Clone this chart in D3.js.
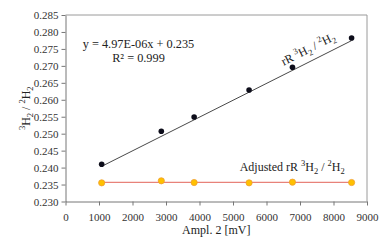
<!DOCTYPE html>
<html>
<head>
<meta charset="utf-8">
<script src="https://cdn.jsdelivr.net/npm/d3@7"></script>
<style>
  body { margin: 0; background: #fff; }
  svg { display: block; font-family: "Liberation Serif", "Times New Roman", serif; }
</style>
</head>
<body>
<div id="chart"></div>
<script>
const ampl = [1080, 2860, 3840, 5480, 6775, 8540];
const rawRatio = [0.2410, 0.2507, 0.2549, 0.2629, 0.2696, 0.2782];
const adjRatio = [0.2355, 0.2361, 0.2356, 0.2355, 0.2357, 0.2356];
const xTicks = [0, 1000, 2000, 3000, 4000, 5000, 6000, 7000, 8000, 9000];
const yTicks = [0.230, 0.235, 0.240, 0.245, 0.250, 0.255, 0.260, 0.265, 0.270, 0.275, 0.280, 0.285];
const slope = 4.97e-6, intercept = 0.235;

const W = 383, H = 241;
const margin = { top: 15, right: 16, bottom: 39.5, left: 65.5 };
const width = W - margin.left - margin.right;
const height = H - margin.top - margin.bottom;

const svg = d3.select('#chart').append('svg')
    .attr('width', W).attr('height', H);
const g = svg.append('g').attr('transform', `translate(${margin.left},${margin.top})`);

const x = d3.scaleLinear().domain([0, 9000]).range([0, width]);
const y = d3.scaleLinear().domain([0.230, 0.285]).range([height, 0]);

// frame (top & right, light gray)
g.append('path')
    .attr('d', `M0,0H${width}V${height}`)
    .attr('fill', 'none').attr('stroke', '#9a9a9a').attr('stroke-width', 1);

const xAxis = g.append('g').attr('transform', `translate(0,${height})`)
    .call(d3.axisBottom(x).tickValues(xTicks).tickFormat(d3.format('d')).tickSize(4).tickSizeOuter(0));
const yAxis = g.append('g')
    .call(d3.axisLeft(y).tickValues(yTicks).tickFormat(d3.format('.3f')).tickSize(4).tickSizeOuter(0));
[xAxis, yAxis].forEach(a => {
    a.select('.domain').attr('stroke', '#777');
    a.selectAll('.tick line').attr('stroke', '#777');
    a.selectAll('text').style('font-size', '11px').style('font-family', 'Liberation Serif, serif').attr('fill', '#333');
});
xAxis.selectAll('text').attr('dy', '1.1em');

// trend line
g.append('line')
    .attr('x1', x(ampl[0])).attr('y1', y(slope * ampl[0] + intercept))
    .attr('x2', x(ampl[ampl.length - 1])).attr('y2', y(slope * ampl[ampl.length - 1] + intercept))
    .attr('stroke', '#333').attr('stroke-width', 0.9);

// adjusted line
g.append('line')
    .attr('x1', x(ampl[0])).attr('y1', y(d3.mean(adjRatio)))
    .attr('x2', x(ampl[ampl.length - 1])).attr('y2', y(d3.mean(adjRatio)))
    .attr('stroke', '#e8827a').attr('stroke-width', 1.2);

g.selectAll('.raw').data(ampl).enter().append('circle')
    .attr('cx', d => x(d)).attr('cy', (d, i) => y(rawRatio[i]))
    .attr('r', 2.8).attr('fill', '#0d0d1a');

g.selectAll('.adj').data(ampl).enter().append('circle')
    .attr('cx', d => x(d)).attr('cy', (d, i) => y(adjRatio[i]))
    .attr('r', 3.1).attr('fill', '#ffc000').attr('stroke', '#f0a030').attr('stroke-width', 0.8);

// equation
g.append('text').attr('x', 73).attr('y', 33).attr('text-anchor', 'middle')
    .style('font-size', '12.3px').attr('fill', '#222').text('y = 4.97E-06x + 0.235');
g.append('text').attr('x', 73).attr('y', 47).attr('text-anchor', 'middle')
    .style('font-size', '12.3px').attr('fill', '#222').text('R² = 0.999');

// series labels
function isoLabel(sel, prefix) {
    sel.append('tspan').text(prefix);
    sel.append('tspan').attr('dy', -5).style('font-size', '8.5px').text('3');
    sel.append('tspan').attr('dy', 5).text('H');
    sel.append('tspan').attr('dy', 3).style('font-size', '8.5px').text('2');
    sel.append('tspan').attr('dy', -3).text(' / ');
    sel.append('tspan').attr('dy', -5).style('font-size', '8.5px').text('2');
    sel.append('tspan').attr('dy', 5).text('H');
    sel.append('tspan').attr('dy', 3).style('font-size', '8.5px').text('2');
}
const lx = 6620;
const ang = Math.atan2(y(slope * 8540 + intercept) - y(slope * 1080 + intercept), x(8540) - x(1080)) * 180 / Math.PI;
const rl = g.append('text')
    .attr('transform', `translate(${x(lx)},${y(slope * lx + intercept)}) rotate(${ang}) translate(0,-8)`)
    .attr('text-anchor', 'start').style('font-size', '12px').attr('fill', '#222');
isoLabel(rl, 'rR ');

const al = g.append('text').attr('x', x(5200)).attr('y', y(0.2391))
    .attr('text-anchor', 'start').style('font-size', '12px').attr('fill', '#222');
isoLabel(al, 'Adjusted rR ');

// axis titles
g.append('text').attr('x', width / 2).attr('y', height + 32).attr('text-anchor', 'middle')
    .style('font-size', '12px').attr('fill', '#222').text('Ampl. 2 [mV]');
const yl = svg.append('text')
    .attr('transform', `translate(30,${margin.top + height / 2}) rotate(-90)`)
    .attr('text-anchor', 'middle').style('font-size', '12px').attr('fill', '#222');
yl.append('tspan').attr('dy', -5).style('font-size', '8.5px').text('3');
yl.append('tspan').attr('dy', 5).text('H');
yl.append('tspan').attr('dy', 3).style('font-size', '8.5px').text('2');
yl.append('tspan').attr('dy', -3).text(' / ');
yl.append('tspan').attr('dy', -5).style('font-size', '8.5px').text('2');
yl.append('tspan').attr('dy', 5).text('H');
yl.append('tspan').attr('dy', 3).style('font-size', '8.5px').text('2');
</script>
</body>
</html>
